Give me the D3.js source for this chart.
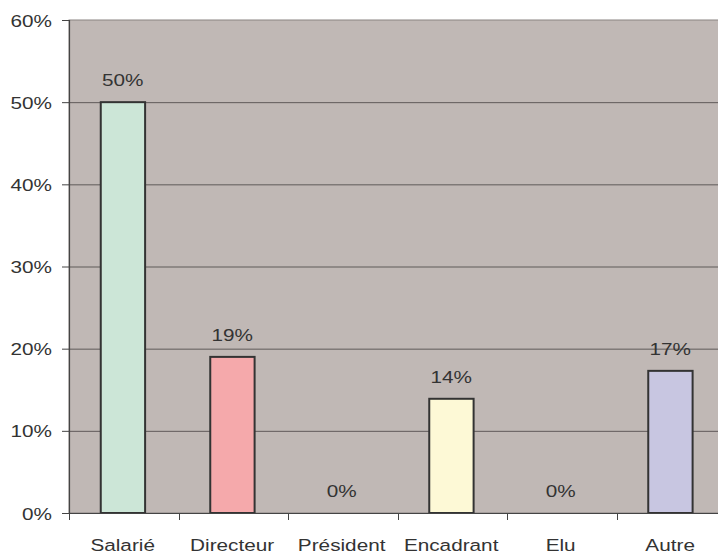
<!doctype html>
<html>
<head>
<meta charset="UTF-8">
<script src="https://d3js.org/d3.v7.min.js"></script>
<style>
  body { margin: 0; background: #ffffff; }
</style>
</head>
<body>
<script>
// -------------------------------------- data
var categories = ["Salarié", "Directeur", "Président", "Encadrant", "Elu", "Autre"];
var values = [50, 19, 0, 13.9, 0, 17.3];
var barColors = ["#cce6d7", "#f5a9ab", "#c0b8b5", "#fdf9d6", "#c0b8b5", "#c8c6e1"];
var yTicks = [0, 10, 20, 30, 40, 50, 60];

// -------------------------------------- colors
var plot_col = "#c0b8b5";
var grid_col = "#5f5a59";
var axis_col = "#444444";
var text_col = "#333333";
var stretch = 1.22;

var svg = d3.select("body").append("svg")
  .attr("width", 718)
  .attr("height", 554);

var x = d3.scaleBand().domain(categories).range([69, 726]);
var y = d3.scaleLinear().domain([0, 60]).range([513, 20]);

// plot background
svg.append("rect")
  .attr("x", 69).attr("y", y(60))
  .attr("width", 726 - 69).attr("height", y(0) - y(60))
  .style("fill", plot_col)
  .style("stroke", "#8a8482")
  .style("stroke-width", 1);

// gridlines
svg.selectAll("line.grid")
  .data(yTicks.filter(d => d > 0 && d < 60))
  .enter().append("line")
  .attr("class", "grid")
  .attr("x1", 69).attr("x2", 726)
  .attr("y1", d => y(d) + 0.5).attr("y2", d => y(d) + 0.5)
  .style("stroke", grid_col)
  .style("stroke-width", 1);

// bars
svg.selectAll("rect.bar")
  .data(categories.map((c, i) => ({ cat: c, val: values[i], col: barColors[i] })))
  .enter().append("rect")
  .attr("class", "bar")
  .filter(d => d.val > 0)
  .attr("x", d => x(d.cat) + x.bandwidth() * 0.29)
  .attr("width", x.bandwidth() * 0.405)
  .attr("y", d => y(d.val))
  .attr("height", d => y(0) - y(d.val))
  .style("fill", d => d.col)
  .style("stroke", "#333333")
  .style("stroke-width", 2);

// value labels
svg.selectAll("text.val")
  .data(categories.map((c, i) => ({ cat: c, val: values[i] })))
  .enter().append("text")
  .attr("class", "val")
  .attr("transform", d => "translate(" + (x(d.cat) + x.bandwidth() * 0.49) + "," + (y(d.val) - 16) + ") scale(" + stretch + ",1)")
  .attr("text-anchor", "middle")
  .style("font", "17px 'Liberation Sans', Arial, sans-serif")
  .style("fill", text_col)
  .text(d => Math.round(d.val) + "%");

// left axis
svg.append("line")
  .attr("x1", 69.5).attr("x2", 69.5)
  .attr("y1", y(60)).attr("y2", y(0))
  .style("stroke", axis_col).style("stroke-width", 1.2);

svg.selectAll("line.ytick")
  .data(yTicks)
  .enter().append("line")
  .attr("class", "ytick")
  .attr("x1", 62).attr("x2", 69)
  .attr("y1", d => y(d) + 0.5).attr("y2", d => y(d) + 0.5)
  .style("stroke", axis_col).style("stroke-width", 1);

svg.selectAll("text.ytick")
  .data(yTicks)
  .enter().append("text")
  .attr("class", "ytick")
  .attr("transform", d => "translate(52," + (y(d) + 6.5) + ") scale(" + stretch + ",1)")
  .attr("text-anchor", "end")
  .style("font", "17px 'Liberation Sans', Arial, sans-serif")
  .style("fill", text_col)
  .text(d => d + "%");

// bottom axis
svg.append("line")
  .attr("x1", 69).attr("x2", 726)
  .attr("y1", y(0) + 0.5).attr("y2", y(0) + 0.5)
  .style("stroke", axis_col).style("stroke-width", 1.2);

svg.selectAll("line.xtick")
  .data(categories)
  .enter().append("line")
  .attr("class", "xtick")
  .attr("x1", d => Math.round(x(d)) + 0.5).attr("x2", d => Math.round(x(d)) + 0.5)
  .attr("y1", y(0)).attr("y2", y(0) + 7)
  .style("stroke", axis_col).style("stroke-width", 1);

svg.selectAll("text.xlab")
  .data(categories)
  .enter().append("text")
  .attr("class", "xlab")
  .attr("transform", d => "translate(" + (x(d) + x.bandwidth() * 0.49) + ",551) scale(" + stretch + ",1)")
  .attr("text-anchor", "middle")
  .style("font", "17px 'Liberation Sans', Arial, sans-serif")
  .style("fill", text_col)
  .text(d => d);
</script>
</body>
</html>
